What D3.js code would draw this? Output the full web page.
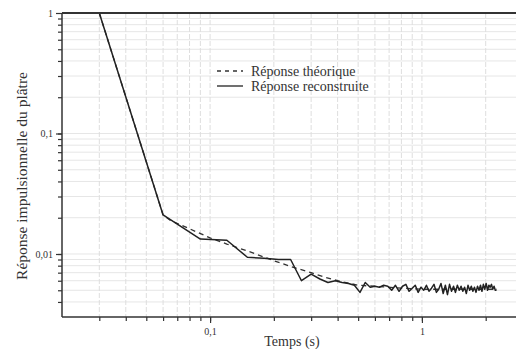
<!DOCTYPE html>
<html>
<head>
<meta charset="utf-8">
<script src="https://cdn.jsdelivr.net/npm/d3@7"></script>
<style>
  html, body { margin: 0; padding: 0; background: #fff; }
</style>
</head>
<body>
<div id="chart"></div>
<script>
// Reconstructed response, sampled every 0.03 s
const timesRec = [
  0.03, 0.06, 0.09, 0.12, 0.15, 0.18, 0.21, 0.24, 0.27, 0.30,
  0.33, 0.36, 0.39, 0.42, 0.45, 0.48, 0.51, 0.54, 0.57, 0.60,
  0.63, 0.66, 0.69, 0.72, 0.75, 0.78, 0.81, 0.84, 0.87, 0.90,
  0.93, 0.96, 0.99, 1.02, 1.05, 1.08, 1.11, 1.14, 1.17, 1.20,
  1.23, 1.26, 1.29, 1.32, 1.35, 1.38, 1.41, 1.44, 1.47, 1.50,
  1.53, 1.56, 1.59, 1.62, 1.65, 1.68, 1.71, 1.74, 1.77, 1.80,
  1.83, 1.86, 1.89, 1.92, 1.95, 1.98, 2.01, 2.04, 2.07, 2.10,
  2.13, 2.16, 2.19, 2.22, 2.25
];
const valuesRec = [
  1.0, 0.0211, 0.0133, 0.0130, 0.0094, 0.0092, 0.0090, 0.0090, 0.0060, 0.0068,
  0.0062, 0.0058, 0.0060, 0.0058, 0.0057, 0.0055, 0.0048, 0.0058, 0.0053, 0.0054,
  0.0053, 0.0055, 0.0054, 0.0050, 0.0055, 0.0049, 0.0054, 0.0056, 0.0049, 0.0052,
  0.0055, 0.0048, 0.0053, 0.0050, 0.0055, 0.0049, 0.0052, 0.0056, 0.0048, 0.0051,
  0.0057, 0.0047, 0.0055, 0.0046, 0.0056, 0.0049, 0.0054, 0.0048, 0.0055, 0.0050,
  0.0054, 0.0049, 0.0053, 0.0047, 0.0055, 0.0050, 0.0054, 0.0049, 0.0053, 0.0048,
  0.0054, 0.0050, 0.0055, 0.0049, 0.0056, 0.0051, 0.0057, 0.0050, 0.0055, 0.0053,
  0.0056, 0.0051, 0.0054, 0.0050, 0.0050
];

// Theoretical response (smooth)
const timesTheo = [0.03, 0.06, 0.065, 0.08, 0.10, 0.12, 0.15, 0.20, 0.25, 0.30, 0.35, 0.40, 0.50, 0.60, 0.80, 1.0, 1.5, 2.25];
const valuesTheo = [1.0, 0.0211, 0.0190, 0.0162, 0.0136, 0.0121, 0.0106, 0.0088, 0.0077, 0.0070, 0.0064, 0.0060, 0.0055, 0.0054, 0.0052, 0.0051, 0.0051, 0.0051];

const xMajor = [0.1, 1];
const xMajorLabels = ['0,1', '1'];
const yMajor = [0.01, 0.1, 1];
const yMajorLabels = ['0,01', '0,1', '1'];

const legendLabels = ['Réponse théorique', 'Réponse reconstruite'];
const xTitle = 'Temps (s)';
const yTitle = 'Réponse impulsionnelle du plâtre';

const W = 516, H = 349;
const margin = { top: 13, left: 62, bottom: 32 };
const serif = '"Liberation Serif", serif';

const svg = d3.select('#chart').append('svg')
  .attr('width', W)
  .attr('height', H)
  .style('font-family', serif);

const x = d3.scaleLog().domain([0.02, 3]).range([margin.left, 523]);
const y = d3.scaleLog().domain([0.003, 1]).range([H - margin.bottom, margin.top]);

const x0 = margin.left, y0 = H - margin.bottom, yTop = margin.top;

// minor positions
const xMinor = [];
for (const d of [0.01, 0.1, 1]) for (let k = 1; k <= 9; k++) {
  const v = +(d * k).toPrecision(3);
  if (v > 0.02 && v < 3) xMinor.push(v);
}
const yMinor = [];
for (const d of [0.001, 0.01, 0.1]) for (let k = 1; k <= 9; k++) {
  const v = +(d * k).toPrecision(3);
  if (v > 0.003 && v < 1) yMinor.push(v);
}

svg.append('clipPath').attr('id', 'plot')
  .append('rect').attr('x', x0).attr('y', yTop).attr('width', W - x0).attr('height', y0 - yTop);

// grid
const grid = svg.append('g');
grid.selectAll('line.gy').data(yMinor).join('line')
  .attr('x1', x0).attr('x2', W)
  .attr('y1', d => y(d)).attr('y2', d => y(d))
  .attr('stroke', '#e6e6e6').attr('stroke-width', 1);
grid.selectAll('line.gx').data(xMinor).join('line')
  .attr('y1', yTop).attr('y2', y0)
  .attr('x1', d => x(d)).attr('x2', d => x(d))
  .attr('stroke', '#dedede').attr('stroke-width', 1)
  .attr('stroke-dasharray', '5,2');

// curves
const line = d3.line().x(d => x(d[0])).y(d => y(d[1]));
const plot = svg.append('g').attr('clip-path', 'url(#plot)');
plot.append('path')
  .datum(timesTheo.map((t, i) => [t, valuesTheo[i]]))
  .attr('d', line)
  .attr('fill', 'none').attr('stroke', '#333').attr('stroke-width', 1.3)
  .attr('stroke-dasharray', '5,4');
plot.append('path')
  .datum(timesRec.map((t, i) => [t, valuesRec[i]]))
  .attr('d', line)
  .attr('fill', 'none').attr('stroke', '#222').attr('stroke-width', 1.5)
  .attr('stroke-linejoin', 'round');

// axes
const xAxis = svg.append('g').attr('transform', `translate(0,${y0})`)
  .call(d3.axisBottom(x).tickValues(xMinor).tickSize(4).tickFormat(''));
xAxis.select('.domain').attr('d', `M${x0},0H${W}`).attr('stroke', '#333').attr('stroke-width', 1.5);
xAxis.selectAll('.tick line').attr('stroke', '#333').attr('stroke-width', 1.2);
const xLab = svg.append('g').attr('transform', `translate(0,${y0})`)
  .call(d3.axisBottom(x).tickValues(xMajor).tickSize(6).tickFormat((d, i) => xMajorLabels[i]));
xLab.style('font-family', serif);
xLab.select('.domain').remove();
xLab.selectAll('.tick line').attr('stroke', '#333').attr('stroke-width', 1.2);
xLab.selectAll('.tick text').attr('font-size', 10).attr('fill', '#333').attr('dy', '0.9em');

const yAxis = svg.append('g').attr('transform', `translate(${x0},0)`)
  .call(d3.axisLeft(y).tickValues(yMinor).tickSize(4).tickFormat(''));
yAxis.select('.domain').attr('d', `M0,${y0}V${yTop}`).attr('stroke', '#333').attr('stroke-width', 1.5);
yAxis.selectAll('.tick line').attr('stroke', '#333').attr('stroke-width', 1.2);
const yLab = svg.append('g').attr('transform', `translate(${x0},0)`)
  .call(d3.axisLeft(y).tickValues(yMajor).tickSize(6).tickFormat((d, i) => yMajorLabels[i]));
yLab.style('font-family', serif);
yLab.select('.domain').remove();
yLab.selectAll('.tick line').attr('stroke', '#333').attr('stroke-width', 1.2);
yLab.selectAll('.tick text').attr('font-size', 10).attr('fill', '#333').attr('x', -9);

// top border
svg.append('line').attr('x1', x0).attr('x2', W).attr('y1', yTop).attr('y2', yTop)
  .attr('stroke', '#333').attr('stroke-width', 2);

// titles
svg.append('text').attr('x', 292).attr('y', 346)
  .attr('text-anchor', 'middle').attr('font-size', 14).attr('fill', '#333').text(xTitle);
svg.append('text').attr('transform', `translate(27,176) rotate(-90)`)
  .attr('text-anchor', 'middle').attr('font-size', 15.5).attr('fill', '#333').text(yTitle);

// legend
const legend = svg.append('g').attr('transform', 'translate(217,71)');
legendLabels.forEach((lab, i) => {
  const g = legend.append('g').attr('transform', `translate(0,${i * 15})`);
  g.append('line').attr('x1', 0).attr('x2', 26).attr('y1', 0).attr('y2', 0)
    .attr('stroke', '#333').attr('stroke-width', 1.4)
    .attr('stroke-dasharray', i === 0 ? '4,4' : null);
  g.append('text').attr('x', 34).attr('y', 0).attr('dy', '0.35em')
    .attr('font-size', 14).attr('fill', '#333').text(lab);
});
</script>
</body>
</html>
